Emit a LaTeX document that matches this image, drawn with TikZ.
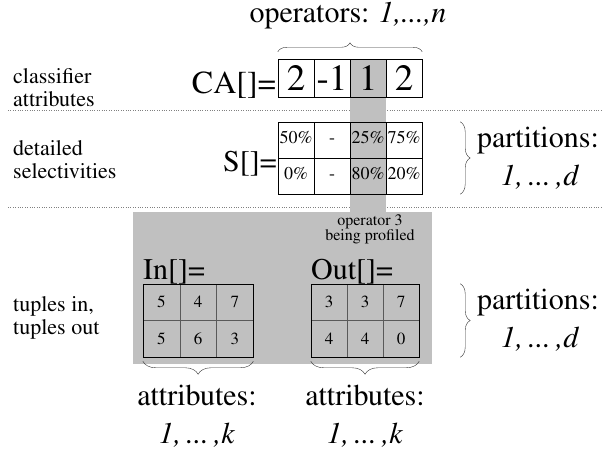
\documentclass[tikz,border=0pt]{standalone}
\usepackage[T1]{fontenc}
\usepackage{times}
\usetikzlibrary{decorations.pathreplacing}
\definecolor{profgray}{HTML}{C0C0C0}

\begin{document}
\begin{tikzpicture}[
		x=1pt, y=-1pt,
		cell/.style={draw, minimum width=36pt, minimum height=36pt, inner sep=0pt},
		cacell/.style={cell, minimum height=38pt, font=\fontsize{37}{39}\selectfont},
		scell/.style={cell, text height=0.68em, text depth=0pt, font=\fontsize{18}{20}\selectfont},
		tcell/.style={cell, draw=black!65, minimum height=36.5pt, font=\fontsize{17}{19}\selectfont},
		big/.style={font=\fontsize{30}{32}\selectfont, inner sep=0pt},
		side/.style={font=\fontsize{22}{23}\selectfont, align=left, inner sep=0pt, anchor=west},
		small/.style={font=\fontsize{16}{12.5}\selectfont, align=center, inner sep=0pt},
		sbrace/.style={decorate, decoration={brace, amplitude=10pt}, draw=black!80}
	]
	\useasboundingbox (0,0) rectangle (602,452);

	% row separators
	\draw[gray, dotted] (8,110) -- (602,110);
	\draw[gray, dotted] (8,207) -- (602,207);

	% operator 3 (gray)
	\fill[profgray] (350,59) rectangle (386,212);
	\fill[profgray] (133,212) rectangle (432,364);

	% CA[]
	\foreach \v [count=\i] in {2,-1,1,2}
		\node[cacell] (ca\i) at (260+36*\i,78) {\v};
	\node[big, font=\fontsize{32}{34}\selectfont, anchor=base east] (calbl) at (276,93) {CA[]=};

	% S[]
	\foreach \v [count=\i] in {50\%,-,25\%,75\%}
		\node[scell] (s1\i) at (260+36*\i,140) {\v};
	\foreach \v [count=\i] in {0\%,-,80\%,20\%}
		\node[scell] (s2\i) at (260+36*\i,176) {\v};
	\node[big, anchor=base east] (slbl) at (277,171) {S[]=};

	% In[], Out[]
	\foreach \v [count=\i] in {5,4,7}
		\node[tcell, minimum width=36.7pt] (in1\i) at (124.7+36.7*\i,302.2) {\v};
	\foreach \v [count=\i] in {5,6,3}
		\node[tcell, minimum width=36.7pt] (in2\i) at (124.7+36.7*\i,338.8) {\v};
	\foreach \v [count=\i] in {3,3,7}
		\node[tcell] (out1\i) at (293+36*\i,302.2) {\v};
	\foreach \v [count=\i] in {4,4,0}
		\node[tcell] (out2\i) at (293+36*\i,338.8) {\v};
	\draw (in11.north west) rectangle (in23.south east);
	\draw (out11.north west) rectangle (out23.south east);
	\node[big, anchor=base west] (inlbl) at (143,279) {In[]=};
	\node[big, anchor=base west] (outlbl) at (311,279) {Out[]=};
	\node[small] (prof) at (370,229) {operator 3\\being profiled};

	% braces
	\draw[sbrace, decoration={amplitude=9pt}] ([yshift=7pt]ca1.north west) -- ([yshift=7pt]ca4.north east);
	\draw[sbrace] ([xshift=38pt]s14.north east) -- ([xshift=38pt]s24.south east);
	\draw[sbrace] ([xshift=41pt]out13.north east) -- ([xshift=41pt]out23.south east);
	\draw[sbrace, decoration={amplitude=13pt}] ([yshift=-4pt]in23.south east) -- ([yshift=-4pt]in21.south west);
	\draw[sbrace, decoration={amplitude=13pt}] ([yshift=-4pt]out23.south east) -- ([yshift=-4pt]out21.south west);

	% labels
	\node[big, anchor=base] (ops) at (348,23) {operators: \textit{1,...,n}};
	\node[big, anchor=base] (partS) at (538,147) {partitions:};
	\node[big, anchor=base] (partSd) at (540,185) {\textit{1,\,...\,,d}};
	\node[big, anchor=base] (partT) at (538,309) {partitions:};
	\node[big, anchor=base] (partTd) at (540,347) {\textit{1,\,...\,,d}};
	\node[big, anchor=base] (attrIn) at (197,405) {attributes:};
	\node[big, anchor=base] (attrInk) at (197,443) {\textit{1,\,...\,,k}};
	\node[big, anchor=base] (attrOut) at (365,405) {attributes:};
	\node[big, anchor=base] (attrOutk) at (365,443) {\textit{1,\,...\,,k}};

	\node[side] (lblca) at (13,88) {classifier\\attributes};
	\node[side] (lbls) at (13,160) {detailed\\selectivities};
	\node[side] (lbltup) at (13,318) {tuples in,\\tuples out};
\end{tikzpicture}
\end{document}
